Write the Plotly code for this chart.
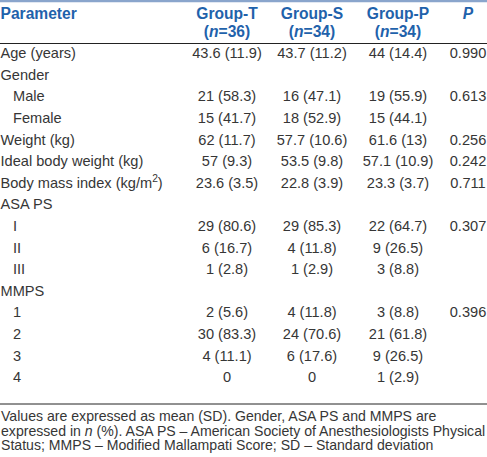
import plotly.graph_objects as go

# ---- data ----
header_labels = ["Parameter", "Group-T", "Group-S", "Group-P", "<i>P</i>"]
header_n = ["", "(<i>n</i>=36)", "(<i>n</i>=34)", "(<i>n</i>=34)", ""]

parameters = ["Age (years)", "Gender", "Male", "Female", "Weight (kg)",
              "Ideal body weight (kg)", "Body mass index (kg/m<sup>2</sup>)",
              "ASA PS", "I", "II", "III", "MMPS", "1", "2", "3", "4"]
sub_rows = {"Male", "Female", "I", "II", "III", "1", "2", "3", "4"}

group_t = ["43.6 (11.9)", "", "21 (58.3)", "15 (41.7)", "62 (11.7)", "57 (9.3)",
           "23.6 (3.5)", "", "29 (80.6)", "6 (16.7)", "1 (2.8)", "", "2 (5.6)",
           "30 (83.3)", "4 (11.1)", "0"]
group_s = ["43.7 (11.2)", "", "16 (47.1)", "18 (52.9)", "57.7 (10.6)", "53.5 (9.8)",
           "22.8 (3.9)", "", "29 (85.3)", "4 (11.8)", "1 (2.9)", "", "4 (11.8)",
           "24 (70.6)", "6 (17.6)", "0"]
group_p = ["44 (14.4)", "", "19 (55.9)", "15 (44.1)", "61.6 (13)", "57.1 (10.9)",
           "23.3 (3.7)", "", "22 (64.7)", "9 (26.5)", "3 (8.8)", "", "3 (8.8)",
           "21 (61.8)", "9 (26.5)", "1 (2.9)"]
p_values = ["0.990", "", "0.613", "", "0.256", "0.242", "0.711", "", "0.307", "",
            "", "", "0.396", "", "", ""]

footnote_lines = [
    "Values are expressed as mean (SD). Gender, ASA PS and MMPS are",
    "expressed in <i>n</i> (%). ASA PS – American Society of Anesthesiologists Physical",
    "Status; MMPS – Modified Mallampati Score; SD – Standard deviation",
]

# ---- layout constants ----
W, H = 487, 457
FONT = "Liberation Sans, Arial, sans-serif"
BODY = "#363636"
BLUE = "#1f62ab"
BODY_SIZE = 14.6
HEAD_SIZE = 15.6
col_x = [227, 312, 398, 468]
TEXT_SHIFT = 2.5  # px, visual centring correction

r0 = 52
step = 21.6
def to_row(px):
    return (px - r0) / step

fig = go.Figure()

def add_text(xs, ys, texts, positions, size, color, bold=False):
    keep = [i for i, t in enumerate(texts) if t]
    fig.add_trace(go.Scatter(
        x=[xs[i] for i in keep],
        y=[ys[i] + TEXT_SHIFT / step for i in keep],
        mode="text",
        text=[("<b>%s</b>" % texts[i]) if bold else texts[i] for i in keep],
        textposition=[positions[i] for i in keep],
        textfont=dict(family=FONT, size=size, color=color),
        cliponaxis=False, hoverinfo="skip", showlegend=False))

rows = list(range(len(parameters)))
add_text([13 if p in sub_rows else 0.5 for p in parameters], rows, parameters,
         ["middle right"] * len(rows), BODY_SIZE, BODY)
for cx, col in zip(col_x, [group_t, group_s, group_p, p_values]):
    add_text([cx] * len(col), rows, col, ["middle center"] * len(col), BODY_SIZE, BODY)

hx = [0.5] + col_x
hpos = ["middle right"] + ["middle center"] * 4
add_text(hx, [to_row(13)] * 5, header_labels, hpos, HEAD_SIZE, BLUE, bold=True)
add_text(hx, [to_row(31)] * 5, header_n, hpos, HEAD_SIZE, BLUE, bold=True)

# rules
fig.add_shape(type="line", x0=0, x1=W, y0=to_row(1), y1=to_row(1),
              line=dict(color="#8aa5cc", width=2.5))
fig.add_shape(type="line", x0=0, x1=W, y0=to_row(43.5), y1=to_row(43.5),
              line=dict(color="#222222", width=1))
fig.add_shape(type="line", x0=0, x1=W, y0=to_row(404), y1=to_row(404),
              line=dict(color="#222222", width=1))

for py, line in zip([416, 430.5, 445], footnote_lines):
    fig.add_annotation(x=0, y=to_row(py), xref="x", yref="y", text=line,
                       showarrow=False, xanchor="left", yanchor="middle", align="left",
                       borderpad=0,
                       font=dict(family=FONT, size=14.1, color=BODY))

fig.update_layout(
    width=W, height=H, margin=dict(l=0, r=0, t=0, b=0),
    paper_bgcolor="white", plot_bgcolor="white",
    xaxis=dict(range=[0, W], visible=False, fixedrange=True),
    yaxis=dict(range=[to_row(H), to_row(0)], visible=False, fixedrange=True),
)

fig.write_html("out.html", config={"displayModeBar": False},
               post_script="document.body.style.margin='0';document.body.style.overflow='hidden';")
